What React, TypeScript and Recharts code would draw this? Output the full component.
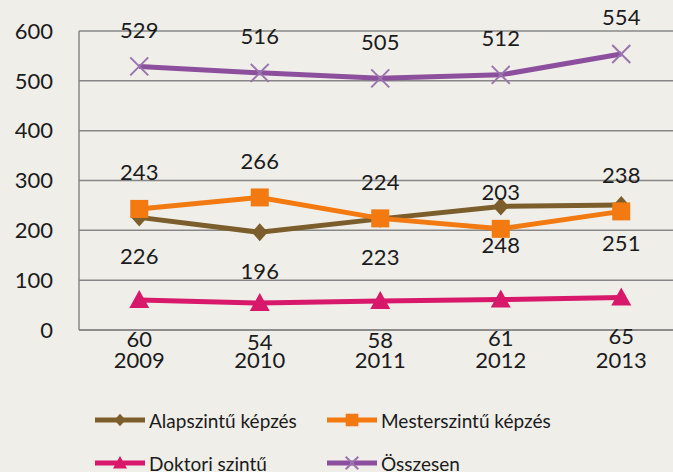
import React from "react";
import { CartesianGrid, LabelList, Legend, Line, LineChart, XAxis, YAxis } from "recharts";

const years = ["2009", "2010", "2011", "2012", "2013"];
const alap = [226, 196, 223, 248, 251];
const mester = [243, 266, 224, 203, 238];
const doktori = [60, 54, 58, 61, 65];
const osszesen = [529, 516, 505, 512, 554];
const yTicks = [0, 100, 200, 300, 400, 500, 600];

const data = years.map((y, i) => ({ year: y, alap: alap[i], mester: mester[i], doktori: doktori[i], osszesen: osszesen[i] }));

const BG = "#F0EEE9";
const GRID = "#878787";
const TXT = "#1b1b1b";
const C_ALAP = "#7C5E2C";
const C_MESTER = "#F27A10";
const C_DOK = "#D8186A";
const C_OSSZ = "#8C4F9E";

const FONT = "Lato, 'Open Sans', sans-serif";

function marker(kind: string, cx: number, cy: number, s = 1) {
  if (kind === "diamond")
    return <polygon points={`${cx},${cy - 9 * s} ${cx + 8 * s},${cy} ${cx},${cy + 9 * s} ${cx - 8 * s},${cy}`} fill={C_ALAP} />;
  if (kind === "square") return <rect x={cx - 9 * s} y={cy - 9 * s} width={18 * s} height={18 * s} fill={C_MESTER} />;
  if (kind === "triangle")
    return <polygon points={`${cx},${cy - 10 * s} ${cx + 10 * s},${cy + 8 * s} ${cx - 10 * s},${cy + 8 * s}`} fill={C_DOK} />;
  return (
    <g stroke="#9A72AE" strokeWidth={2}>
      <line x1={cx - 9 * s} y1={cy - 9 * s} x2={cx + 9 * s} y2={cy + 9 * s} />
      <line x1={cx - 9 * s} y1={cy + 9 * s} x2={cx + 9 * s} y2={cy - 9 * s} />
    </g>
  );
}

const dotOf = (kind: string) => (p: any) => <g key={`${kind}-${p.index}`}>{marker(kind, p.cx, p.cy)}</g>;

const labelAt = (dy: number) => (p: any) => (
  <text x={p.x} y={p.y + dy} textAnchor="middle" dominantBaseline="central" fontSize={22} fill={TXT} fontFamily={FONT}>
    {p.value}
  </text>
);

const legendItems = [
  { name: "Alapszintű képzés", color: C_ALAP, kind: "diamond", x: 95, y: 50 },
  { name: "Mesterszintű képzés", color: C_MESTER, kind: "square", x: 327, y: 50 },
  { name: "Doktori szintű", color: C_DOK, kind: "triangle", x: 95, y: 93 },
  { name: "Összesen", color: C_OSSZ, kind: "x", x: 327, y: 93 },
];

function LegendBox() {
  return (
    <div style={{ position: "relative", height: 102, width: 673 }}>
      {legendItems.map((it) => (
        <div key={it.name} style={{ position: "absolute", left: it.x, top: it.y - 14, height: 28, display: "flex", alignItems: "center" }}>
          <svg width={52} height={28}>
            <line x1={0} y1={14} x2={50} y2={14} stroke={it.color} strokeWidth={5} />
            {marker(it.kind, 25, 14, 0.7)}
          </svg>
          <span style={{ fontSize: 19, color: TXT, fontFamily: FONT, marginLeft: 2, whiteSpace: "nowrap" }}>{it.name}</span>
        </div>
      ))}
    </div>
  );
}

export default function App() {
  return (
    <div style={{ position: "absolute", left: 0, top: 0, width: 673, height: 472, overflow: "hidden", background: BG, fontFamily: FONT }}>
      <LineChart width={700} height={472} data={data} margin={{ top: 31, right: 18.5, left: 0, bottom: 0 }}>
        <CartesianGrid vertical={false} stroke={GRID} strokeWidth={1.5} />
        <XAxis
          dataKey="year"
          scale="band"
          height={40}
          axisLine={{ stroke: GRID, strokeWidth: 1.5 }}
          tickLine={false}
          tickMargin={16}
          tick={{ fontSize: 22, fill: TXT, fontFamily: FONT }}
        />
        <YAxis
          width={79}
          domain={[0, 600]}
          ticks={yTicks}
          axisLine={{ stroke: GRID, strokeWidth: 1.5 }}
          tickLine={false}
          tickMargin={20}
          tick={{ fontSize: 22, fill: TXT, fontFamily: FONT }}
        />
        <Legend verticalAlign="bottom" height={102} content={() => <LegendBox />} />
        <Line dataKey="alap" name="Alapszintű képzés" stroke={C_ALAP} strokeWidth={5} dot={dotOf("diamond")} activeDot={false} isAnimationActive={false}>
          <LabelList dataKey="alap" content={labelAt(38)} />
        </Line>
        <Line dataKey="mester" name="Mesterszintű képzés" stroke={C_MESTER} strokeWidth={5} dot={dotOf("square")} activeDot={false} isAnimationActive={false}>
          <LabelList dataKey="mester" content={labelAt(-37)} />
        </Line>
        <Line dataKey="doktori" name="Doktori szintű" stroke={C_DOK} strokeWidth={5} dot={dotOf("triangle")} activeDot={false} isAnimationActive={false}>
          <LabelList dataKey="doktori" content={labelAt(38)} />
        </Line>
        <Line dataKey="osszesen" name="Összesen" stroke={C_OSSZ} strokeWidth={5} dot={dotOf("x")} activeDot={false} isAnimationActive={false}>
          <LabelList dataKey="osszesen" content={labelAt(-37)} />
        </Line>
      </LineChart>
    </div>
  );
}
